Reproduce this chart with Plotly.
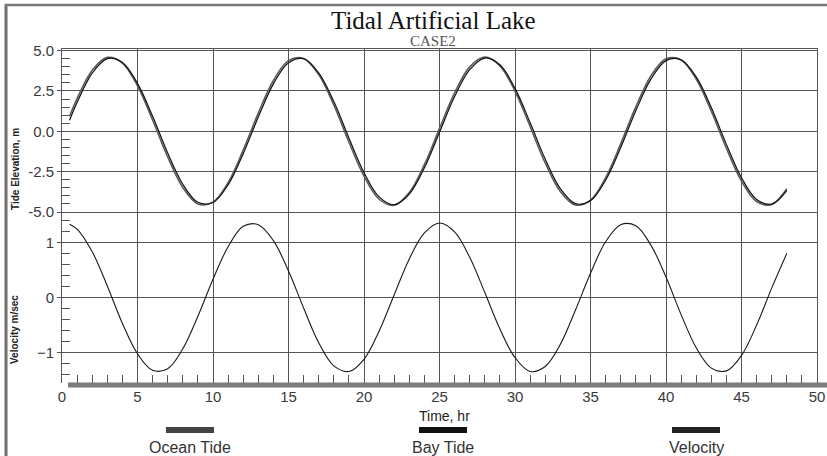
import plotly.graph_objects as go

# ---------------- data ----------------
time_hr = [0.5] + list(range(1, 49))

ocean_tide = [0.93, 2.03, 3.78, 4.58, 4.23, 2.82, 0.70, -1.59, -3.48, -4.50,
              -4.39, -3.18, -1.17, 1.13, 3.15, 4.38, 4.51, 3.51, 1.63, -0.66,
              -2.78, -4.21, -4.58, -3.80, -2.07, 0.18, 2.38, 3.99, 4.60, 4.05,
              2.49, 0.30, -1.96, -3.73, -4.57, -4.26, -2.88, -0.78, 1.51, 3.43,
              4.49, 4.42, 3.24, 1.25, -1.05, -3.09, -4.35, -4.53, -3.56]

bay_tide = [0.69, 1.79, 3.60, 4.50, 4.27, 2.97, 0.93, -1.35, -3.28, -4.40,
            -4.41, -3.32, -1.39, 0.88, 2.94, 4.25, 4.50, 3.62, 1.84, -0.41,
            -2.56, -4.06, -4.55, -3.89, -2.26, -0.06, 2.15, 3.82, 4.54, 4.12,
            2.66, 0.54, -1.72, -3.55, -4.48, -4.30, -3.03, -1.01, 1.27, 3.23,
            4.38, 4.43, 3.37, 1.47, -0.81, -2.88, -4.22, -4.51, -3.67]

velocity = [1.33, 1.24, 0.83, 0.21, -0.47, -1.02, -1.32, -1.29, -0.93, -0.34,
            0.33, 0.92, 1.29, 1.32, 1.03, 0.48, -0.19, -0.82, -1.24, -1.34,
            -1.12, -0.61, 0.05, 0.70, 1.17, 1.35, 1.19, 0.73, 0.09, -0.57,
            -1.09, -1.34, -1.25, -0.85, -0.23, 0.44, 1.01, 1.32, 1.30, 0.95,
            0.37, -0.31, -0.91, -1.28, -1.33, -1.05, -0.50, 0.17, 0.80]

series_names = ["Ocean Tide", "Bay Tide", "Velocity"]
series_colors = ["#5a5a5a", "#111111", "#1a1a1a"]
tide_ticks = [-5.0, -2.5, 0.0, 2.5, 5.0]
vel_ticks = [-1, 0, 1]
time_ticks = [0, 5, 10, 15, 20, 25, 30, 35, 40, 45, 50]

# ---------------- figure ----------------
W, H = 827, 456
L, R, T, B = 62, 10, 49, 73
plot_h = H - T - B
split = 171 / plot_h

fig = go.Figure()
fig.add_trace(go.Scatter(x=time_hr, y=ocean_tide, name=series_names[0], mode="lines",
                         line=dict(color=series_colors[0], width=1.6, shape="spline"),
                         xaxis="x2", yaxis="y2"))
fig.add_trace(go.Scatter(x=time_hr, y=bay_tide, name=series_names[1], mode="lines",
                         line=dict(color=series_colors[1], width=1.2, shape="spline"),
                         xaxis="x2", yaxis="y2"))
fig.add_trace(go.Scatter(x=time_hr, y=velocity, name=series_names[2], mode="lines",
                         line=dict(color=series_colors[2], width=1.1, shape="spline"),
                         xaxis="x", yaxis="y"))

grid = "#555555"
tickfont = dict(family="Liberation Sans, Arial", size=15, color="#3a3a3a")

fig.update_layout(
    width=W, height=H,
    margin=dict(l=L, r=R, t=T, b=B),
    paper_bgcolor="white", plot_bgcolor="white",
    showlegend=False,
    xaxis=dict(domain=[0, 1], anchor="y", range=[0, 50], tickmode="array",
               tickvals=time_ticks, showgrid=True, gridcolor=grid, gridwidth=1,
               ticks="inside", ticklen=8, tickcolor=grid, tickfont=tickfont,
               minor=dict(dtick=1, tick0=0, ticks="inside", ticklen=8, tickcolor=grid, showgrid=False),
               showline=False, zeroline=False, ticklabelstandoff=3, automargin=False),
    xaxis2=dict(domain=[0, 1], anchor="y2", range=[0, 50], matches="x", tickmode="array",
                tickvals=time_ticks, showgrid=True, gridcolor=grid, gridwidth=1,
                showticklabels=False, ticks="", showline=True, linecolor=grid,
                linewidth=1, mirror=True, zeroline=False),
    yaxis=dict(domain=[0, split], anchor="x", range=[-1.55, 1.55], tickmode="array",
               tickvals=vel_ticks, showgrid=True, gridcolor=grid, gridwidth=1,
               ticks="outside", ticklen=4, tickcolor=grid, tickfont=tickfont,
               minor=dict(dtick=0.2, tick0=0, ticks="inside", ticklen=8, tickcolor=grid, showgrid=False),
               showline=True, linecolor=grid, linewidth=1, mirror=True, zeroline=False,
               automargin=False),
    yaxis2=dict(domain=[split, 1], anchor="x2", range=[-5.0, 5.1], tickmode="array",
                tickvals=tide_ticks, ticktext=["%.1f" % v for v in tide_ticks],
                showgrid=True, gridcolor=grid, gridwidth=1,
                ticks="outside", ticklen=4, tickcolor=grid, tickfont=tickfont,
                minor=dict(dtick=0.5, tick0=0, ticks="inside", ticklen=8, tickcolor=grid, showgrid=False),
                showline=True, linecolor=grid, linewidth=1, mirror=True, zeroline=False,
                automargin=False),
)

def px_x(px):
    return (px - L) / (W - L - R)

def px_y(py):
    return (H - B - py) / plot_h

shapes = []
# outer frame
shapes.append(dict(type="line", xref="paper", yref="paper", x0=px_x(6), x1=px_x(6),
                   y0=px_y(4), y1=px_y(460), line=dict(color="#6e6e6e", width=3)))
shapes.append(dict(type="line", xref="paper", yref="paper", x0=px_x(5), x1=px_x(830),
                   y0=px_y(5), y1=px_y(5), line=dict(color="#7a7a7a", width=2.5)))
# thick time axis bar
shapes.append(dict(type="line", xref="paper", yref="paper", x0=px_x(68), x1=px_x(830),
                   y0=px_y(385), y1=px_y(385), line=dict(color="#7d7d7d", width=5)))

annotations = []
# legend bars and labels
legend_centers = [190, 443, 696]
for name, col, cx in zip(series_names, ["#444444", "#111111", "#222222"], legend_centers):
    shapes.append(dict(type="rect", xref="paper", yref="paper", x0=px_x(cx - 24), x1=px_x(cx + 24),
                       y0=px_y(433), y1=px_y(427), fillcolor=col, line=dict(width=0)))
    annotations.append(dict(text=name, xref="paper", yref="paper", x=px_x(cx), y=px_y(447),
                            showarrow=False, xanchor="center", yanchor="middle",
                            font=dict(family="Liberation Sans, Arial", size=16, color="#333333")))

# titles
annotations.append(dict(text="Tidal Artificial Lake", xref="paper", yref="paper",
                        x=px_x(433), y=px_y(20), showarrow=False, xanchor="center", yanchor="middle",
                        font=dict(family="Liberation Serif, Times New Roman", size=25, color="#111111")))
annotations.append(dict(text="CASE2", xref="paper", yref="paper",
                        x=px_x(433), y=px_y(41), showarrow=False, xanchor="center", yanchor="middle",
                        font=dict(family="Liberation Serif, Times New Roman", size=15, color="#555555")))
annotations.append(dict(text="Time, hr", xref="paper", yref="paper",
                        x=px_x(445), y=px_y(416), showarrow=False, xanchor="center", yanchor="middle",
                        font=dict(family="Liberation Sans, Arial", size=14, color="#222222")))
annotations.append(dict(text="<b>Tide Elevation, m</b>", xref="paper", yref="paper",
                        x=px_x(15), y=px_y(169), showarrow=False, textangle=-90,
                        xanchor="center", yanchor="middle",
                        font=dict(family="Liberation Sans, Arial", size=10, color="#222222")))
annotations.append(dict(text="<b>Velocity m/sec</b>", xref="paper", yref="paper",
                        x=px_x(14), y=px_y(330), showarrow=False, textangle=-90,
                        xanchor="center", yanchor="middle",
                        font=dict(family="Liberation Sans, Arial", size=10, color="#222222")))

fig.update_layout(shapes=shapes, annotations=annotations)
fig.write_html("out.html", config={"displayModeBar": False},
               post_script="document.body.style.margin='0';document.body.style.padding='0';"
                           "document.body.style.overflow='hidden';")
